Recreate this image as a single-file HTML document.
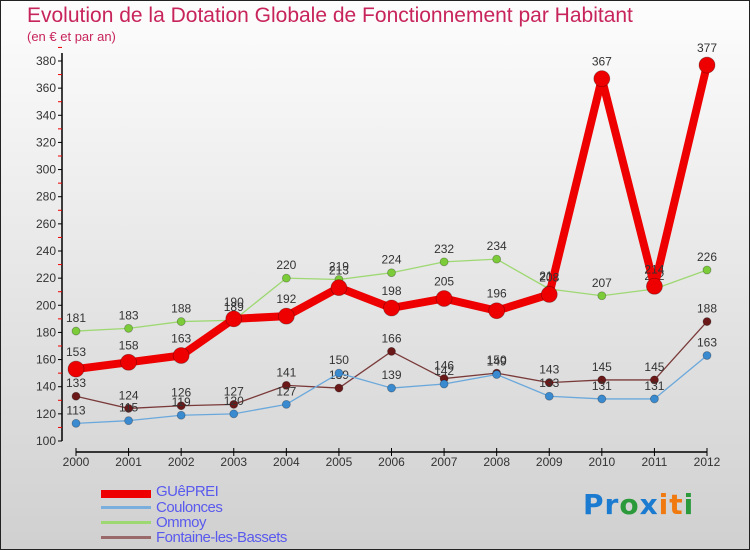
<!DOCTYPE html>
<html><head><meta charset="utf-8"><style>
body{margin:0}
#c{position:relative;width:748px;height:548px;border:1px solid #222;background:linear-gradient(#fdfdfd,#d0d0d0);font-family:"Liberation Sans",sans-serif;overflow:hidden}
.t{position:absolute;color:#c8245c}
.lg{position:absolute;left:155px;color:#5a5aee;font-size:15px;letter-spacing:-0.5px}
.sw{position:absolute;left:100px;width:50px}
</style></head><body>
<div id="c">
<div class="t" style="left:26px;top:3px;font-size:21px">Evolution de la Dotation Globale de Fonctionnement par Habitant</div>
<div class="t" style="left:26px;top:28px;font-size:13px">(en € et par an)</div>
<svg id="s" width="748" height="548" style="position:absolute;left:0;top:0"></svg>
<div class="sw" style="top:489px;height:8px;background:#e00"></div>
<div class="lg" style="top:482px">GUêPREI</div>
<div class="sw" style="top:505px;height:3px;background:#7aaedc"></div>
<div class="lg" style="top:498px">Coulonces</div>
<div class="sw" style="top:520px;height:3px;background:#9ed872"></div>
<div class="lg" style="top:513px">Ommoy</div>
<div class="sw" style="top:535px;height:3px;background:#9a6a6a"></div>
<div class="lg" style="top:528px">Fontaine-les-Bassets</div>
<div style="position:absolute;left:582px;top:487px;font-size:28px;font-family:'DejaVu Sans',sans-serif;font-weight:bold;letter-spacing:1px"><span style="color:#1a7bd0">Pr</span><span style="color:#2a9a3a">o</span><span style="color:#1a7bd0">x</span><span style="color:#f07a10">it</span><span style="color:#2a9a3a">i</span></div>
</div>
<script>
const years=[2000,2001,2002,2003,2004,2005,2006,2007,2008,2009,2010,2011,2012];
const guepre=[153,158,163,190,192,213,198,205,196,208,367,214,377];
const coulonces=[113,115,119,120,127,150,139,142,149,133,131,131,163];
const ommoy=[181,183,188,189,220,219,224,232,234,212,207,212,226];
const fontaine=[133,124,126,127,141,139,166,146,150,143,145,145,188];
const yTicks=[100,120,140,160,180,200,220,240,260,280,300,320,340,360,380];
const NS='http://www.w3.org/2000/svg';
const s=document.getElementById('s');
const X=i=>75+i*(706-75)/(years.length-1);
const Y=v=>440-(v-100)*(380/280);
function el(t,a,p){const e=document.createElementNS(NS,t);for(const k in a)e.setAttribute(k,a[k]);(p||s).appendChild(e);return e;}
let ya=el('line',{x1:61,y1:52,x2:61,y2:440,stroke:'#000','stroke-width':1.5});


yTicks.forEach(v=>{
 el('line',{x1:57,x2:61,y1:Y(v),y2:Y(v),stroke:'#000'});
 el('line',{x1:57,x2:61,y1:Y(v+10),y2:Y(v+10),stroke:'#e00'});
 const t=el('text',{x:55,y:Y(v)+4,'text-anchor':'end','font-size':12,fill:'#333','font-family':'Liberation Sans'});
 t.textContent=v;
 
 
});
let xa=el('line',{x1:75,y1:451,x2:706,y2:451,stroke:'#000','stroke-width':1.5});


years.forEach((y,i)=>{
 el('line',{x1:X(i),x2:X(i),y1:447,y2:455,stroke:'#000'});
 const t=el('text',{x:X(i),y:465,'text-anchor':'middle','font-size':12,fill:'#333','font-family':'Liberation Sans'});
 t.textContent=y;
 
 
});
function series(d,name,col,dot,w,r){
 const g=el('g',{});
 
 
 el('polyline',{points:d.map((v,i)=>X(i)+','+Y(v)).join(' '),fill:'none',stroke:col,'stroke-width':w,'stroke-linejoin':'round'},g);
 d.forEach((v,i)=>{
  const c=el('circle',{cx:X(i),cy:Y(v),r:r,fill:dot,stroke:'rgba(0,0,0,0.3)','stroke-width':0.8},g);
  
  
  const t=el('text',{x:X(i),y:Y(v)-r-5,'text-anchor':'middle','font-size':12,fill:'#333','font-family':'Liberation Sans'},g);
  t.textContent=v;
  
  
 });
}
series(fontaine,'fontaine','#7a3a3a','#6a1818',1.3,4);
series(coulonces,'coulonces','#6aa8dc','#3a8ad0',1.3,4);
series(ommoy,'ommoy','#9ed872','#7ccc3a',1.3,4);
series(guepre,'guepre','#e00','#e00',8,8);
</script>
</body></html>
